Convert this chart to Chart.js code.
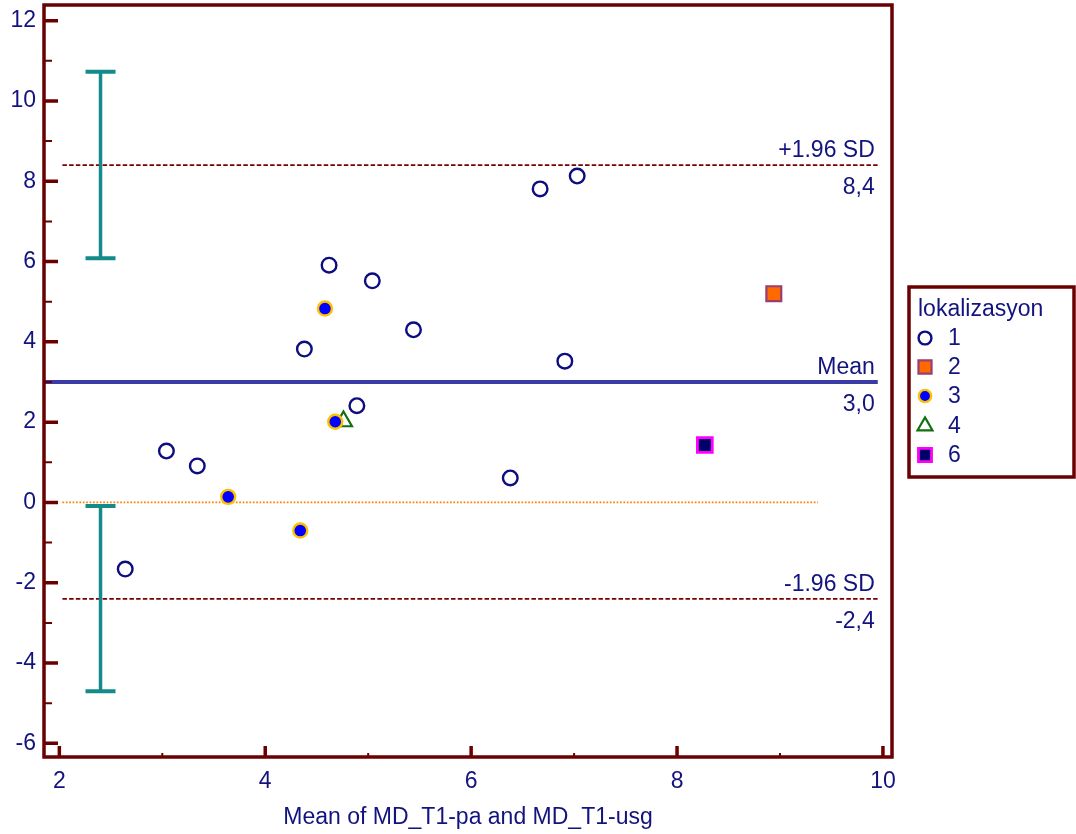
<!DOCTYPE html>
<html>
<head>
<meta charset="utf-8">
<script src="https://cdn.jsdelivr.net/npm/chart.js@4/dist/chart.umd.min.js"></script>
<style>
  html, body { margin: 0; padding: 0; background: #ffffff; }
  canvas { display: block; }
</style>
</head>
<body>
<canvas id="ba" width="1076" height="834"></canvas>
<script>
// Bland-Altman plot: MD_T1-pa vs MD_T1-usg, grouped by lokalizasyon

// --- data ---
const groupNames = ['1', '2', '3', '4', '6'];

const g1X = [2.64, 3.04, 3.34, 4.38, 4.62, 4.89, 5.04, 5.44, 6.38, 6.67, 6.91, 7.03];
const g1Y = [-1.66, 1.28, 0.91, 3.82, 5.91, 2.41, 5.52, 4.30, 0.61, 7.81, 3.52, 8.13];

const g2X = [8.94];
const g2Y = [5.20];

const g3X = [4.58, 4.68, 3.64, 4.34];
const g3Y = [4.83, 2.01, 0.14, -0.70];

const g4X = [4.76];
const g4Y = [2.02];

const g6X = [8.27];
const g6Y = [1.43];

// agreement statistics
const meanDiff = 3.0;
const upperLoA = 8.4;
const lowerLoA = -2.4;
const loaLabels = ['+1.96 SD', 'Mean', '-1.96 SD'];

// 95% confidence intervals of the limits of agreement
const ciX = 2.40;
const upperCI = [6.08, 10.73];
const lowerCI = [-4.70, -0.09];

// extents of the horizontal reference lines
const refLineStart = 2.03;
const meanLineStart = 1.851;
const refLineEnd = 9.95;
const zeroLineEnd = 9.37;

// axes
const xMin = 1.851, xMax = 10.088;
const yMin = -6.34, yMax = 12.39;
const xTicks = [2, 4, 6, 8, 10];
const xMinorTicks = [3, 5, 7, 9];
const yTicks = [-6, -4, -2, 0, 2, 4, 6, 8, 10, 12];
const yMinorTicks = [-5, -3, -1, 1, 3, 5, 7, 9, 11];
const xTitle = 'Mean of MD_T1-pa and MD_T1-usg';
const legendTitle = 'lokalizasyon';

// --- styles ---
const FONT = '"Liberation Sans", Arial, Helvetica, sans-serif';
const NAVY = '#13137f';
const FRAME = '#6b0000';
const TEAL = '#138b8b';

const pts = (xs, ys) => xs.map((x, i) => ({ x, y: ys[i] }));
const fmt = v => v.toFixed(1).replace('.', ',');

const groupStyles = [
  { pointStyle: 'circle', radius: 7.3, bg: '#ffffff', border: '#0d0d80', bw: 2.4 },
  { pointStyle: 'rect', radius: 10.5, bg: '#ff6a00', border: '#993d73', bw: 2.2 },
  { pointStyle: 'circle', radius: 7, bg: '#0000ff', border: '#ffc000', bw: 2.4 },
  { pointStyle: 'triangle', radius: 9.8, bg: 'rgba(255,255,255,0)', border: '#107010', bw: 2.2 },
  { pointStyle: 'rect', radius: 10.5, bg: '#000066', border: '#ff00ff', bw: 2.8 }
];
const legendScale = 0.88;
const groupData = [pts(g1X, g1Y), pts(g2X, g2Y), pts(g3X, g3Y), pts(g4X, g4Y), pts(g6X, g6Y)];

const pointSets = groupData.map((d, i) => ({
  label: groupNames[i],
  data: d,
  pointStyle: groupStyles[i].pointStyle,
  pointRadius: groupStyles[i].radius,
  pointBackgroundColor: groupStyles[i].bg,
  pointBorderColor: groupStyles[i].border,
  pointBorderWidth: groupStyles[i].bw,
  showLine: false
}));

const hline = (y, x0, x1, color, width, dash) => ({
  type: 'line',
  data: [{ x: x0, y }, { x: x1, y }],
  borderColor: color,
  borderWidth: width,
  borderDash: dash,
  pointRadius: 0,
  fill: false,
  tension: 0
});

const lineSets = [
  hline(meanDiff, meanLineStart, refLineEnd, '#3b3ba6', 4, []),
  hline(upperLoA, refLineStart, refLineEnd, '#7a0000', 1.7, [4.5, 2.2]),
  hline(lowerLoA, refLineStart, refLineEnd, '#7a0000', 1.7, [4.5, 2.2]),
  hline(0, refLineStart, zeroLineEnd, '#ff8000', 1.7, [1.7, 1.7])
];

function drawMarker(ctx, style, x, y, k) {
  ctx.save();
  ctx.fillStyle = style.bg;
  ctx.strokeStyle = style.border;
  ctx.lineWidth = style.bw;
  ctx.beginPath();
  const r = style.radius * k;
  if (style.pointStyle === 'circle') {
    ctx.arc(x, y, r, 0, Math.PI * 2);
  } else if (style.pointStyle === 'rect') {
    const s = Math.SQRT1_2 * r;
    ctx.rect(x - s, y - s, 2 * s, 2 * s);
  } else if (style.pointStyle === 'triangle') {
    ctx.moveTo(x, y - r);
    ctx.lineTo(x + Math.sin(Math.PI / 3) * r, y + r / 2);
    ctx.lineTo(x - Math.sin(Math.PI / 3) * r, y + r / 2);
    ctx.closePath();
  }
  ctx.fill();
  ctx.stroke();
  ctx.restore();
}

const decorations = {
  id: 'decorations',
  afterDatasetsDraw(chart) {
    const { ctx, chartArea: a, scales: { x, y } } = chart;
    ctx.save();

    // confidence interval bars
    ctx.strokeStyle = TEAL;
    ctx.lineCap = 'butt';
    [upperCI, lowerCI].forEach(([lo, hi]) => {
      const px = x.getPixelForValue(ciX);
      const pLo = y.getPixelForValue(lo);
      const pHi = y.getPixelForValue(hi);
      ctx.lineWidth = 3.5;
      ctx.beginPath();
      ctx.moveTo(px, pLo); ctx.lineTo(px, pHi);
      ctx.stroke();
      ctx.lineWidth = 4;
      ctx.beginPath();
      ctx.moveTo(px - 15, pLo); ctx.lineTo(px + 15, pLo);
      ctx.moveTo(px - 15, pHi); ctx.lineTo(px + 15, pHi);
      ctx.stroke();
    });

    // reference line captions
    ctx.fillStyle = NAVY;
    ctx.font = '23px ' + FONT;
    ctx.textAlign = 'right';
    ctx.textBaseline = 'alphabetic';
    const tx = x.getPixelForValue(refLineEnd) - 3;
    [[upperLoA, loaLabels[0]], [meanDiff, loaLabels[1]], [lowerLoA, loaLabels[2]]].forEach(([v, name]) => {
      const py = y.getPixelForValue(v);
      ctx.fillText(name, tx, py - 8);
      ctx.fillText(fmt(v), tx, py + 29);
    });

    // frame
    ctx.strokeStyle = FRAME;
    ctx.lineWidth = 3.5;
    ctx.lineCap = 'square';
    ctx.beginPath();
    ctx.moveTo(a.left, a.bottom);
    ctx.lineTo(a.left, a.top);
    ctx.lineTo(a.right, a.top);
    ctx.lineTo(a.right, a.bottom);
    ctx.closePath();
    ctx.stroke();

    // inward tick marks
    ctx.lineCap = 'butt';
    ctx.beginPath();
    ctx.lineWidth = 3.5;
    yTicks.forEach(v => { const p = y.getPixelForValue(v); ctx.moveTo(a.left, p); ctx.lineTo(a.left + 14, p); });
    xTicks.forEach(v => { const p = x.getPixelForValue(v); ctx.moveTo(p, a.bottom); ctx.lineTo(p, a.bottom - 11); });
    ctx.stroke();
    ctx.beginPath();
    ctx.lineWidth = 2;
    yMinorTicks.forEach(v => { const p = y.getPixelForValue(v); ctx.moveTo(a.left, p); ctx.lineTo(a.left + 8, p); });
    xMinorTicks.forEach(v => { const p = x.getPixelForValue(v); ctx.moveTo(p, a.bottom); ctx.lineTo(p, a.bottom - 4); });
    ctx.stroke();
    ctx.restore();
  },
  afterDraw(chart) {
    const { ctx } = chart;
    // legend box
    const bx = 909, by = 287, bw = 165, bh = 190;
    ctx.save();
    ctx.fillStyle = '#ffffff';
    ctx.fillRect(bx, by, bw, bh);
    ctx.strokeStyle = FRAME;
    ctx.lineWidth = 3.5;
    ctx.strokeRect(bx, by, bw, bh);
    ctx.fillStyle = NAVY;
    ctx.font = '23px ' + FONT;
    ctx.textAlign = 'left';
    ctx.textBaseline = 'middle';
    ctx.fillText(legendTitle, 918, 310);
    const rowY = [338, 367, 396, 426, 455];
    groupNames.forEach((name, i) => {
      drawMarker(ctx, groupStyles[i], 925, rowY[i], legendScale);
      ctx.fillStyle = NAVY;
      ctx.fillText(name, 948, rowY[i] + 1);
    });
    ctx.restore();
  }
};

// keep the plot box fixed: no extra room for labels that overhang the axis ends
function noOverhang(s) {
  s.paddingTop = 0; s.paddingBottom = 0; s.paddingLeft = 0; s.paddingRight = 0;
}

new Chart(document.getElementById('ba'), {
  type: 'scatter',
  data: { datasets: [...pointSets, ...lineSets] },
  options: {
    responsive: false,
    animation: false,
    devicePixelRatio: 1,
    layout: { autoPadding: false, padding: { top: 5, right: 184, left: 0, bottom: 0 } },
    plugins: { legend: { display: false }, tooltip: { enabled: false } },
    scales: {
      x: {
        type: 'linear',
        min: xMin, max: xMax,
        afterFit(s) { s.height = 77; noOverhang(s); },
        afterBuildTicks(s) { s.ticks = xTicks.map(v => ({ value: v })); },
        grid: { display: false, drawTicks: false },
        border: { display: false },
        ticks: { color: NAVY, font: { family: FONT, size: 23 }, padding: 11, maxRotation: 0, autoSkip: false },
        title: { display: true, text: xTitle, color: NAVY, font: { family: FONT, size: 23 }, padding: { top: 0, bottom: 3 } }
      },
      y: {
        type: 'linear',
        min: yMin, max: yMax,
        afterFit(s) { s.width = 44; noOverhang(s); },
        afterBuildTicks(s) { s.ticks = yTicks.map(v => ({ value: v })); },
        grid: { display: false, drawTicks: false },
        border: { display: false },
        ticks: { color: NAVY, font: { family: FONT, size: 23 }, padding: 8, autoSkip: false }
      }
    }
  },
  plugins: [decorations]
});
</script>
</body>
</html>
